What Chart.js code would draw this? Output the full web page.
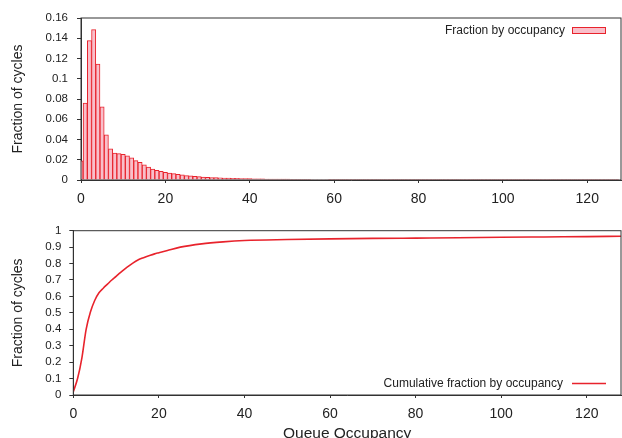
<!DOCTYPE html>
<html>
<head>
<meta charset="utf-8">
<script src="https://cdn.jsdelivr.net/npm/chart.js@4.4.0/dist/chart.umd.min.js"></script>
<style>
    html, body { margin: 0; padding: 0; background: #fff; overflow: hidden; width: 622px; height: 438px; }
    .box { position: absolute; left: 0; width: 622px; }
    #topBox { top: 0; height: 215px; }
    #bottomBox { top: 215px; height: 233px; }
</style>
</head>
<body>
<div class="box" id="topBox"><canvas id="histChart"></canvas></div>
<div class="box" id="bottomBox"><canvas id="cumChart"></canvas></div>
<script>
// === data ===
// fraction of cycles per queue occupancy bin (bins 0..127)
const fractionByOccupancy = [
    0.019, 0.076, 0.1376, 0.1485, 0.1146, 0.0723, 0.0446, 0.0307, 0.0266, 0.026,     // 0-9
    0.0253, 0.0238, 0.0218, 0.0191, 0.0174, 0.015, 0.0128, 0.0109, 0.0095, 0.0085,   // 10-19
    0.0075, 0.0069, 0.0063, 0.0056, 0.005, 0.0044, 0.004, 0.0036, 0.0033, 0.003,     // 20-29
    0.0027, 0.0025, 0.0023, 0.0021, 0.0019, 0.0018, 0.0017, 0.0016, 0.0015, 0.0014, // 30-39
    0.0013, 0.0012, 0.0011, 0.0011, 0.001, 0.001, 0.0009, 0.0009, 0.0008, 0.0008,    // 40-49
    0.0007, 0.0007, 0.0006, 0.0006, 0.0006, 0.0005, 0.0005, 0.0005, 0.0005, 0.0004, // 50-59
    0.0004, 0.0004, 0.0004, 0.0004, 0.0003, 0.0003, 0.0003, 0.0003, 0.0003, 0.0003, // 60-69
    0.0003, 0.0003, 0.0003, 0.0002, 0.0002, 0.0002, 0.0002, 0.0002, 0.0002, 0.0002, // 70-79
    0.0002, 0.0002, 0.0002, 0.0002, 0.0002, 0.0002, 0.0002, 0.0002, 0.0001, 0.0001, // 80-89
    0.0001, 0.0001, 0.0001, 0.0001, 0.0001, 0.0001, 0.0001, 0.0001, 0.0001, 0.0001, // 90-99
    0.0001, 0.0001, 0.0001, 0.0001, 0.0001, 0.0001, 0.0001, 0.0001, 0.0001, 0.0001, // 100-109
    0.0001, 0.0001, 0.0001, 0.0001, 0.0001, 0.0001, 0.0001, 0.0001, 0.0001, 0.0001, // 110-119
    0.0001, 0.0001, 0.0001, 0.0001, 0.0001, 0.0001, 0.0001, 0.0001                  // 120-127
];

// cumulative curve
const cumulativeX = [0, 1, 2, 3, 4, 5, 6, 7, 8, 9, 10, 11, 12, 13, 14, 15, 16, 17, 18, 19, 20,
                     22, 25, 30, 35, 40, 50, 60, 70, 80, 90, 100, 110, 120, 128];
const cumulativeY = [0.02, 0.1, 0.225, 0.4, 0.505, 0.575, 0.622, 0.65, 0.675, 0.7, 0.722,
                     0.745, 0.766, 0.786, 0.804, 0.82, 0.832, 0.842, 0.851, 0.859, 0.866,
                     0.88, 0.9, 0.92, 0.932, 0.94, 0.946, 0.95, 0.953, 0.955, 0.957,
                     0.96, 0.962, 0.964, 0.966];

const xTicks = [0, 20, 40, 60, 80, 100, 120];

// === styles ===
const FONT = "'Liberation Sans', Arial, sans-serif";
const INK = '#222';
const AXIS = '#333';
const RED = '#e8232c';
const PINK = '#f9bfca';

Chart.defaults.font.family = FONT;
Chart.defaults.color = INK;

// 0.1 -> "0.1", 1 -> "1" (no trailing zeros)
const plainNumber = (v) => String(parseFloat(Number(v).toFixed(3)));

// frame around the plot area (gnuplot style box)
const framePlugin = {
    id: 'frame',
    afterDatasetsDraw(chart) {
        const { ctx, chartArea: a } = chart;
        ctx.save();
        ctx.strokeStyle = AXIS;
        ctx.lineWidth = 1;
        ctx.strokeRect(a.left, a.top, a.right - a.left, a.bottom - a.top);
        ctx.restore();
    }
};

// key inside the plot: text then sample on the right
const keyPlugin = (text, textRight, y, drawSample) => ({
    id: 'key',
    afterDraw(chart) {
        const ctx = chart.ctx;
        ctx.save();
        ctx.font = `12px ${FONT}`;
        ctx.fillStyle = INK;
        ctx.textAlign = 'right';
        ctx.textBaseline = 'middle';
        ctx.fillText(text, textRight, y);
        drawSample(ctx);
        ctx.restore();
    }
});

const xAxis = (title) => ({
    type: 'linear',
    min: 0,
    max: 128,
    offset: false,
    afterBuildTicks: (s) => { s.ticks = xTicks.map(v => ({ value: v })); },
    ticks: { padding: 8, maxRotation: 0, autoSkip: false, font: { size: 14 } },
    grid: { drawOnChartArea: false, offset: false, tickLength: 3, color: AXIS },
    border: { color: AXIS },
    title: title ? { display: true, text: title, font: { size: 15.5 }, padding: { top: 0, bottom: 4.7 } } : { display: false }
});

const yAxis = (max, step, pad, width) => ({
    min: 0,
    max: max,
    ticks: { stepSize: step, padding: pad, autoSkip: false, font: { size: 11.5 }, callback: plainNumber },
    grid: { drawOnChartArea: false, tickLength: 4, color: AXIS },
    border: { color: AXIS },
    title: { display: true, text: 'Fraction of cycles', font: { size: 14 }, padding: { top: 10, bottom: 0 } },
    afterFit: (s) => { s.width = width; }
});

// === top: histogram ===
new Chart(document.getElementById('histChart'), {
    type: 'bar',
    data: {
        datasets: [{
            label: 'Fraction by occupancy',
            data: fractionByOccupancy.map((v, i) => ({ x: i, y: v })),
            backgroundColor: PINK,
            borderColor: RED,
            borderWidth: 1,
            barPercentage: 1,
            categoryPercentage: 1,
            clip: 0
        }]
    },
    options: {
        responsive: true,
        maintainAspectRatio: false,
        animation: false,
        events: [],
        layout: { padding: { top: 18, right: 1, left: 0, bottom: 0 } },
        plugins: { legend: { display: false }, tooltip: { enabled: false } },
        scales: {
            x: Object.assign(xAxis(null), { afterFit: (s) => { s.height = 35; } }),
            y: yAxis(0.16, 0.02, 9, 81)
        }
    },
    plugins: [framePlugin, keyPlugin('Fraction by occupancy', 565, 31, (ctx) => {
        ctx.fillStyle = PINK;
        ctx.fillRect(572, 27.5, 34, 6);
        ctx.strokeStyle = RED;
        ctx.lineWidth = 1;
        ctx.strokeRect(572.5, 27.5, 33, 6);
    })]
});

// === bottom: cumulative ===
new Chart(document.getElementById('cumChart'), {
    type: 'line',
    data: {
        datasets: [{
            label: 'Cumulative fraction by occupancy',
            data: cumulativeX.map((x, i) => ({ x: x, y: cumulativeY[i] })),
            borderColor: RED,
            borderWidth: 1.6,
            pointRadius: 0,
            fill: false,
            cubicInterpolationMode: 'monotone'
        }]
    },
    options: {
        responsive: true,
        maintainAspectRatio: false,
        animation: false,
        events: [],
        layout: { padding: { top: 15.7, right: 1, left: 0, bottom: 0 } },
        plugins: { legend: { display: false }, tooltip: { enabled: false } },
        scales: {
            x: Object.assign(xAxis('Queue Occupancy'), { afterFit: (s) => { s.height = 53; } }),
            y: yAxis(1, 0.1, 8, 73.3)
        }
    },
    plugins: [framePlugin, keyPlugin('Cumulative fraction by occupancy', 563, 169, (ctx) => {
        ctx.strokeStyle = RED;
        ctx.lineWidth = 1.6;
        ctx.beginPath();
        ctx.moveTo(572, 168.5);
        ctx.lineTo(606, 168.5);
        ctx.stroke();
    })]
});
</script>
</body>
</html>
